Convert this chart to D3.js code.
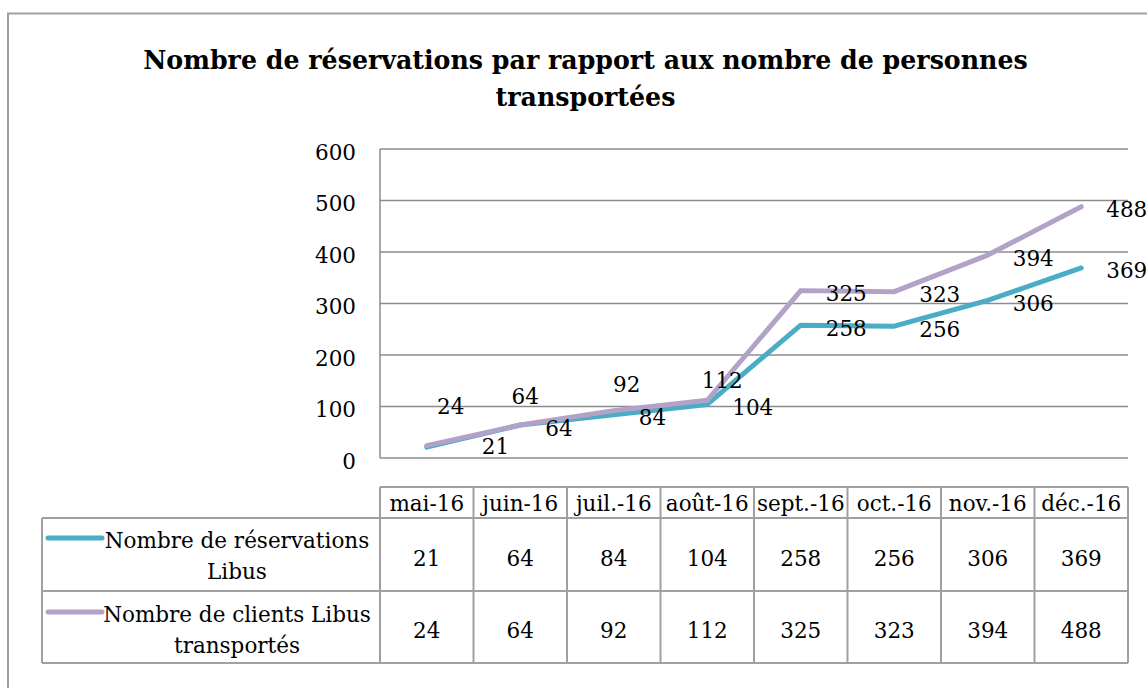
<!DOCTYPE html>
<html>
<head>
<meta charset="utf-8">
<script src="https://cdn.jsdelivr.net/npm/d3@7"></script>
<style>
  body { margin: 0; background: #fff; }
  text { font-family: "DejaVu Serif", serif; fill: #000; }
</style>
</head>
<body>
<div id="chart"></div>
<script>
let width = 1147, height = 688;

// Data
let months = ["mai-16", "juin-16", "juil.-16", "août-16", "sept.-16", "oct.-16", "nov.-16", "déc.-16"];
let reservations = [21, 64, 84, 104, 258, 256, 306, 369];
let clients = [24, 64, 92, 112, 325, 323, 394, 488];
let yTicks = [0, 100, 200, 300, 400, 500, 600];
let seriesNames = [["Nombre de réservations", "Libus"], ["Nombre de clients Libus", "transportés"]];
let titleLines = ["Nombre de réservations par rapport aux nombre de personnes", "transportées"];

let series = [
    { name: seriesNames[0], values: reservations, color: '#4bacc6' },
    { name: seriesNames[1], values: clients, color: '#b3a2c7' }
];

// labels moved by hand in the original (series index - point index)
let labelNudge = {
    "0-0": [55, -1],
    "1-0": [24, -40, "middle"],
    "1-1": [5, -29, "middle"],
    "1-2": [13, -27, "middle"],
    "1-3": [15, -20, "middle"]
};

let plot = { left: 380, right: 1128, top: 149, bottom: 458 };
let table = { left: 42, head: 487, row1: 518, row2: 591, bottom: 663 };
let gridColor = '#8c8c8c';
let fontSize = 21.5;

let svg = d3.select("#chart").append("svg")
    .attr("width", width)
    .attr("height", height);

// outer frame
svg.append("rect")
    .attr("x", 8).attr("y", 13.5)
    .attr("width", 1160).attr("height", 700)
    .attr("fill", "none")
    .attr("stroke", "#a0a0a0")
    .attr("stroke-width", 2);

// title, sized so the first line is as wide as in the original
let title = svg.append("g").selectAll("text")
    .data(titleLines)
    .join("text")
    .attr("x", 585.5)
    .attr("y", (d, i) => 69 + i * 37)
    .attr("text-anchor", "middle")
    .style("font-weight", "bold")
    .style("font-size", "24px")
    .text(d => d);
let titleW = title.nodes()[0].getComputedTextLength();
title.style("font-size", (24 * 885 / titleW) + "px");

let xScale = d3.scaleBand()
    .domain(months)
    .range([plot.left, plot.right]);

let yScale = d3.scaleLinear()
    .domain([0, 600])
    .range([plot.bottom, plot.top]);

let xPoint = d => xScale(d) + xScale.bandwidth() / 2;

// gridlines
svg.append("g").selectAll("line")
    .data(yTicks)
    .join("line")
    .attr("x1", plot.left).attr("x2", plot.right)
    .attr("y1", d => yScale(d)).attr("y2", d => yScale(d))
    .attr("stroke", gridColor)
    .attr("stroke-width", 1.5);

// y axis line
svg.append("line")
    .attr("x1", plot.left).attr("x2", plot.left)
    .attr("y1", plot.top).attr("y2", plot.bottom)
    .attr("stroke", gridColor)
    .attr("stroke-width", 1.5);

// y tick labels
svg.append("g").selectAll("text")
    .data(yTicks)
    .join("text")
    .attr("x", 356)
    .attr("y", d => yScale(d) + 10.5)
    .attr("text-anchor", "end")
    .style("font-size", fontSize + "px")
    .text(d => d);

// lines
let line = d3.line()
    .x((d, i) => xPoint(months[i]))
    .y(d => yScale(d));

svg.append("g").selectAll("path")
    .data(series)
    .join("path")
    .attr("d", d => line(d.values))
    .attr("fill", "none")
    .attr("stroke", d => d.color)
    .attr("stroke-width", 5)
    .attr("stroke-linejoin", "round")
    .attr("stroke-linecap", "round");

// data labels
series.forEach((s, si) => {
    svg.append("g").selectAll("text")
        .data(s.values)
        .join("text")
        .each(function (d, i) {
            let nudge = labelNudge[si + "-" + i];
            let x = xPoint(months[i]);
            let y = yScale(d);
            let sel = d3.select(this);
            if (nudge) {
                sel.attr("x", x + nudge[0])
                    .attr("y", y + nudge[1] + 8)
                    .attr("text-anchor", nudge[2] || "start");
            } else {
                sel.attr("x", x + 25)
                    .attr("y", y + 2.5 + 8)
                    .attr("text-anchor", "start");
            }
        })
        .style("font-size", fontSize + "px")
        .text(d => d);
});

// data table
let tableLines = svg.append("g")
    .attr("stroke", "#a0a0a0")
    .attr("stroke-width", 2)
    .attr("fill", "none");

// header row box
tableLines.append("line")
    .attr("x1", plot.left).attr("x2", plot.right)
    .attr("y1", table.head).attr("y2", table.head);
[table.row1, table.row2, table.bottom].forEach(y => {
    tableLines.append("line")
        .attr("x1", table.left).attr("x2", plot.right)
        .attr("y1", y).attr("y2", y);
});
tableLines.append("line")
    .attr("x1", table.left).attr("x2", table.left)
    .attr("y1", table.row1).attr("y2", table.bottom);

let colEdges = months.map(m => xScale(m)).concat([plot.right]);
tableLines.selectAll(".col")
    .data(colEdges)
    .join("line")
    .attr("class", "col")
    .attr("x1", d => d).attr("x2", d => d)
    .attr("y1", table.head).attr("y2", table.bottom);

// header labels
svg.append("g").selectAll("text")
    .data(months)
    .join("text")
    .attr("x", d => xPoint(d))
    .attr("y", 511)
    .attr("text-anchor", "middle")
    .style("font-size", fontSize + "px")
    .text(d => d);

// values
let rowBase = [566, 638];
series.forEach((s, si) => {
    svg.append("g").selectAll("text")
        .data(s.values)
        .join("text")
        .attr("x", (d, i) => xPoint(months[i]))
        .attr("y", rowBase[si])
        .attr("text-anchor", "middle")
        .style("font-size", fontSize + "px")
        .text(d => d);
});

// legend keys in the table
let legendBase = [548, 622];
series.forEach((s, si) => {
    let g = svg.append("g");
    g.append("line")
        .attr("x1", 48).attr("x2", 102)
        .attr("y1", legendBase[si] - 10).attr("y2", legendBase[si] - 10)
        .attr("stroke", s.color)
        .attr("stroke-width", 5)
        .attr("stroke-linecap", "round");
    g.selectAll("text")
        .data(s.name)
        .join("text")
        .attr("x", 237)
        .attr("y", (d, i) => legendBase[si] + i * 31)
        .attr("text-anchor", "middle")
        .style("font-size", fontSize + "px")
        .text(d => d);
});
</script>
</body>
</html>
